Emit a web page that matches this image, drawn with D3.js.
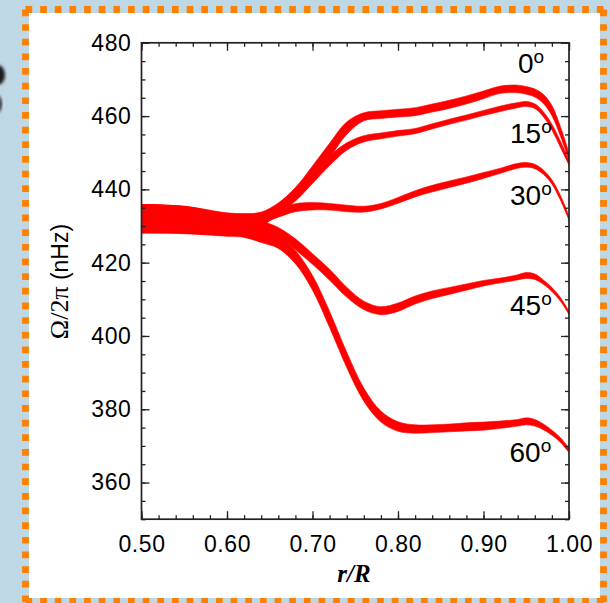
<!DOCTYPE html>
<html lang="en">
<head>
<meta charset="UTF-8" />
<title>Rotation rate vs radius</title>
<style>
  html, body { margin: 0; padding: 0; background: #bfd8e6; }
  svg { display: block; }
</style>
</head>
<body>
<script src="https://d3js.org/d3.v7.min.js"></script>
<script>
// fractional radius r/R
const radius = [0.50, 0.55, 0.60, 0.62, 0.64, 0.66, 0.68, 0.70, 0.72, 0.74, 0.76, 0.78, 0.80,
  0.82, 0.84, 0.86, 0.88, 0.90, 0.92, 0.94, 0.95, 0.96, 0.97, 0.98, 0.99, 1.00];

// Omega/2pi (nHz) and half-width of the band, per latitude
const rate0 = [432.0, 431.8, 430.7, 431.0, 431.9, 434.9, 438.9, 444.6, 450.6, 456.7, 459.8, 460.4, 460.8,
  461.2, 462.2, 463.2, 464.4, 465.8, 467.2, 467.4, 467.0, 466.3, 464.7, 461.5, 455.8, 449.0];
const err0 = [3.85, 3.6, 2.9, 2.4, 1.9, 1.4, 1.6, 1.8, 2.0, 1.7, 1.1, 1.05, 1.05,
  1.1, 1.1, 1.1, 1.1, 1.05, 1.0, 1.05, 1.05, 1.1, 1.25, 1.4, 1.3, 1.0];

const rate15 = [432.0, 431.8, 430.6, 430.9, 431.7, 434.6, 438.4, 443.2, 447.8, 451.7, 453.8, 454.6, 455.3,
  455.9, 457.2, 458.45, 459.6, 460.85, 462.0, 463.0, 463.3, 462.7, 460.5, 457.0, 452.3, 447.3];
const err15 = [3.85, 3.6, 2.8, 2.3, 1.8, 1.3, 1.6, 1.6, 1.3, 1.0, 0.85, 0.8, 0.75,
  0.7, 0.7, 0.7, 0.7, 0.7, 0.75, 0.7, 0.7, 0.65, 0.7, 0.8, 0.85, 0.7];

const rate30 = [432.0, 431.7, 430.4, 430.6, 432.0, 433.6, 435.0, 435.4, 435.25, 434.8, 434.6, 435.4, 437.0,
  438.8, 440.2, 441.4, 442.55, 443.8, 445.1, 446.45, 446.7, 446.25, 444.7, 442.0, 437.7, 432.2];
const err30 = [3.85, 3.6, 2.7, 2.2, 1.4, 1.2, 1.1, 1.0, 0.9, 0.9, 0.8, 0.75, 0.8,
  0.85, 0.9, 0.9, 0.85, 0.8, 0.7, 0.65, 0.65, 0.6, 0.6, 0.6, 0.65, 0.6];

const rate45 = [432.0, 431.6, 430.2, 429.6, 429.6, 428.3, 425.0, 421.0, 416.7, 411.95, 408.35, 406.9, 407.85,
  409.8, 411.25, 412.3, 413.35, 414.4, 415.15, 416.0, 416.5, 416.15, 414.7, 412.7, 410.0, 406.3];
const err45 = [3.85, 3.6, 2.7, 2.2, 1.7, 1.3, 1.5, 1.45, 1.5, 1.35, 1.15, 1.1, 1.15,
  1.1, 1.05, 0.95, 0.85, 0.75, 0.65, 0.7, 0.8, 0.75, 0.6, 0.55, 0.5, 0.45];

const rate60 = [432.0, 431.5, 429.9, 428.9, 427.4, 425.6, 421.5, 414.5, 404.5, 393.5, 384.0, 378.0, 375.3,
  374.6, 374.7, 374.9, 375.2, 375.4, 375.8, 376.3, 376.7, 376.3, 375.2, 373.6, 371.6, 368.8];
const err60 = [3.85, 3.6, 2.7, 2.0, 1.9, 1.7, 1.8, 2.0, 2.2, 2.1, 1.8, 1.5, 1.3,
  1.15, 1.05, 1.05, 1.1, 1.1, 1.0, 0.9, 0.95, 0.9, 0.8, 0.7, 0.65, 0.6];

const latitudes = ["0", "15", "30", "45", "60"];
const rates = [rate0, rate15, rate30, rate45, rate60];
const errs = [err0, err15, err30, err45, err60];

// where each latitude label sits, in data units (r, nHz)
const labelR = [0.9404, 0.9310, 0.9310, 0.9310, 0.9304];
const labelV = [471.7, 452.6, 435.7, 405.7, 365.6];

const xMajor = [0.50, 0.60, 0.70, 0.80, 0.90, 1.00];
const yMajor = [360, 380, 400, 420, 440, 460, 480];

const W = 610, H = 603;
const svg = d3.select("body").append("svg").attr("width", W).attr("height", H);

// backdrop: blue page, white card with orange dotted edge
const blur = svg.append("defs").append("filter").attr("id", "blur");
blur.append("feGaussianBlur").attr("stdDeviation", 1.6);
svg.append("ellipse").attr("cx", -2).attr("cy", 75).attr("rx", 7).attr("ry", 10)
  .attr("fill", "#1a1a1a").attr("filter", "url(#blur)");
svg.append("ellipse").attr("cx", -3).attr("cy", 104).attr("rx", 5).attr("ry", 9)
  .attr("fill", "#333").attr("filter", "url(#blur)");

svg.append("rect").attr("x", 29).attr("y", 13).attr("width", 571).attr("height", 585).attr("fill", "#fff");
const edge = svg.append("g").attr("stroke", "#ff8000").attr("stroke-width", 6.8)
  .attr("stroke-dasharray", "6.7 7.95").attr("fill", "none");
edge.append("line").attr("x1", 25.5).attr("y1", 9.5).attr("x2", 603.5).attr("y2", 9.5);
edge.append("line").attr("x1", 25.5).attr("y1", 9.5).attr("x2", 25.5).attr("y2", 603);
edge.append("line").attr("x1", 603.5).attr("y1", 9.5).attr("x2", 603.5).attr("y2", 603);
edge.append("line").attr("x1", 25.5).attr("y1", 601.5).attr("x2", 603.5).attr("y2", 601.5);

const x = d3.scaleLinear().domain([0.5, 1.0]).range([141.5, 569]);
const y = d3.scaleLinear().domain([350, 480]).range([519.2, 42.8]);

svg.append("clipPath").attr("id", "plot").append("rect")
  .attr("x", x(0.5)).attr("y", y(480)).attr("width", x(1) - x(0.5)).attr("height", y(350) - y(480));

const area = d3.area()
  .curve(d3.curveCatmullRom.alpha(0.5))
  .x(d => x(d.r))
  .y0(d => y(d.v - d.e))
  .y1(d => y(d.v + d.e));

const bands = latitudes.map((lat, i) => radius.map((r, j) => ({ r, v: rates[i][j], e: errs[i][j] })));

svg.append("g").attr("clip-path", "url(#plot)")
  .selectAll("path").data(bands).join("path")
  .attr("d", area)
  .attr("fill", "#ff0000")
  .attr("stroke", "#ff0000")
  .attr("stroke-width", 0.6);

// axes, ticks pointing inward on all four sides
const minorX = d3.range(0, 26).map(i => 0.5 + i * 0.02);
const minorY = d3.range(350, 481, 5);
const fmt = d3.format(".2f");

function axisStyle(g) {
  g.select(".domain").remove();
  g.selectAll(".tick line").attr("stroke", "#222").attr("stroke-width", 1.3);
  g.selectAll(".tick text").attr("fill", "#000")
    .style("font-family", "'Liberation Sans', Arial, sans-serif")
    .style("font-size", "23px").style("letter-spacing", "0.6px");
}

const gBottom = svg.append("g").attr("transform", `translate(0,${y(350)})`);
gBottom.append("g").call(d3.axisBottom(x).tickValues(minorX).tickSize(-4).tickFormat("")).call(axisStyle);
gBottom.append("g").call(d3.axisBottom(x).tickValues(xMajor).tickSize(-8).tickPadding(16).tickFormat(fmt)).call(axisStyle);

const gTop = svg.append("g").attr("transform", `translate(0,${y(480)})`);
gTop.append("g").call(d3.axisTop(x).tickValues(minorX).tickSize(-4).tickFormat("")).call(axisStyle);
gTop.append("g").call(d3.axisTop(x).tickValues(xMajor).tickSize(-8).tickFormat("")).call(axisStyle);

const gLeft = svg.append("g").attr("transform", `translate(${x(0.5)},0)`);
gLeft.append("g").call(d3.axisLeft(y).tickValues(minorY).tickSize(-4).tickFormat("")).call(axisStyle);
gLeft.append("g").call(d3.axisLeft(y).tickValues(yMajor).tickSize(-8).tickPadding(10)).call(axisStyle);

const gRight = svg.append("g").attr("transform", `translate(${x(1)},0)`);
gRight.append("g").call(d3.axisRight(y).tickValues(minorY).tickSize(-4).tickFormat("")).call(axisStyle);
gRight.append("g").call(d3.axisRight(y).tickValues(yMajor).tickSize(-8).tickFormat("")).call(axisStyle);

svg.append("rect")
  .attr("x", x(0.5)).attr("y", y(480)).attr("width", x(1) - x(0.5)).attr("height", y(350) - y(480))
  .attr("fill", "none").attr("stroke", "#222").attr("stroke-width", 1.7);

// latitude labels
const labels = svg.append("g")
  .style("font-family", "'Liberation Sans', Arial, sans-serif").attr("fill", "#000");
latitudes.forEach((lat, i) => {
  const t = labels.append("text").attr("x", x(labelR[i])).attr("y", y(labelV[i]))
    .style("font-size", "28px");
  t.append("tspan").text(lat);
  t.append("tspan").attr("dy", -10).style("font-size", "19px").text("o");
});

// axis titles
const ylab = svg.append("text")
  .attr("transform", "translate(68,281.5) rotate(-90)")
  .attr("text-anchor", "middle").attr("fill", "#000");
ylab.append("tspan").style("font-family", "'Liberation Serif', 'Times New Roman', serif")
  .style("font-size", "26px").text("Ω/2π");
ylab.append("tspan").style("font-family", "'Liberation Sans', Arial, sans-serif")
  .style("font-size", "23px").text(" (nHz)");

svg.append("text")
  .attr("x", 354).attr("y", 582).attr("text-anchor", "middle")
  .style("font-family", "'Liberation Serif', 'Times New Roman', serif")
  .style("font-size", "25px").style("font-weight", "bold").style("font-style", "italic")
  .text("r/R");
</script>
</body>
</html>
